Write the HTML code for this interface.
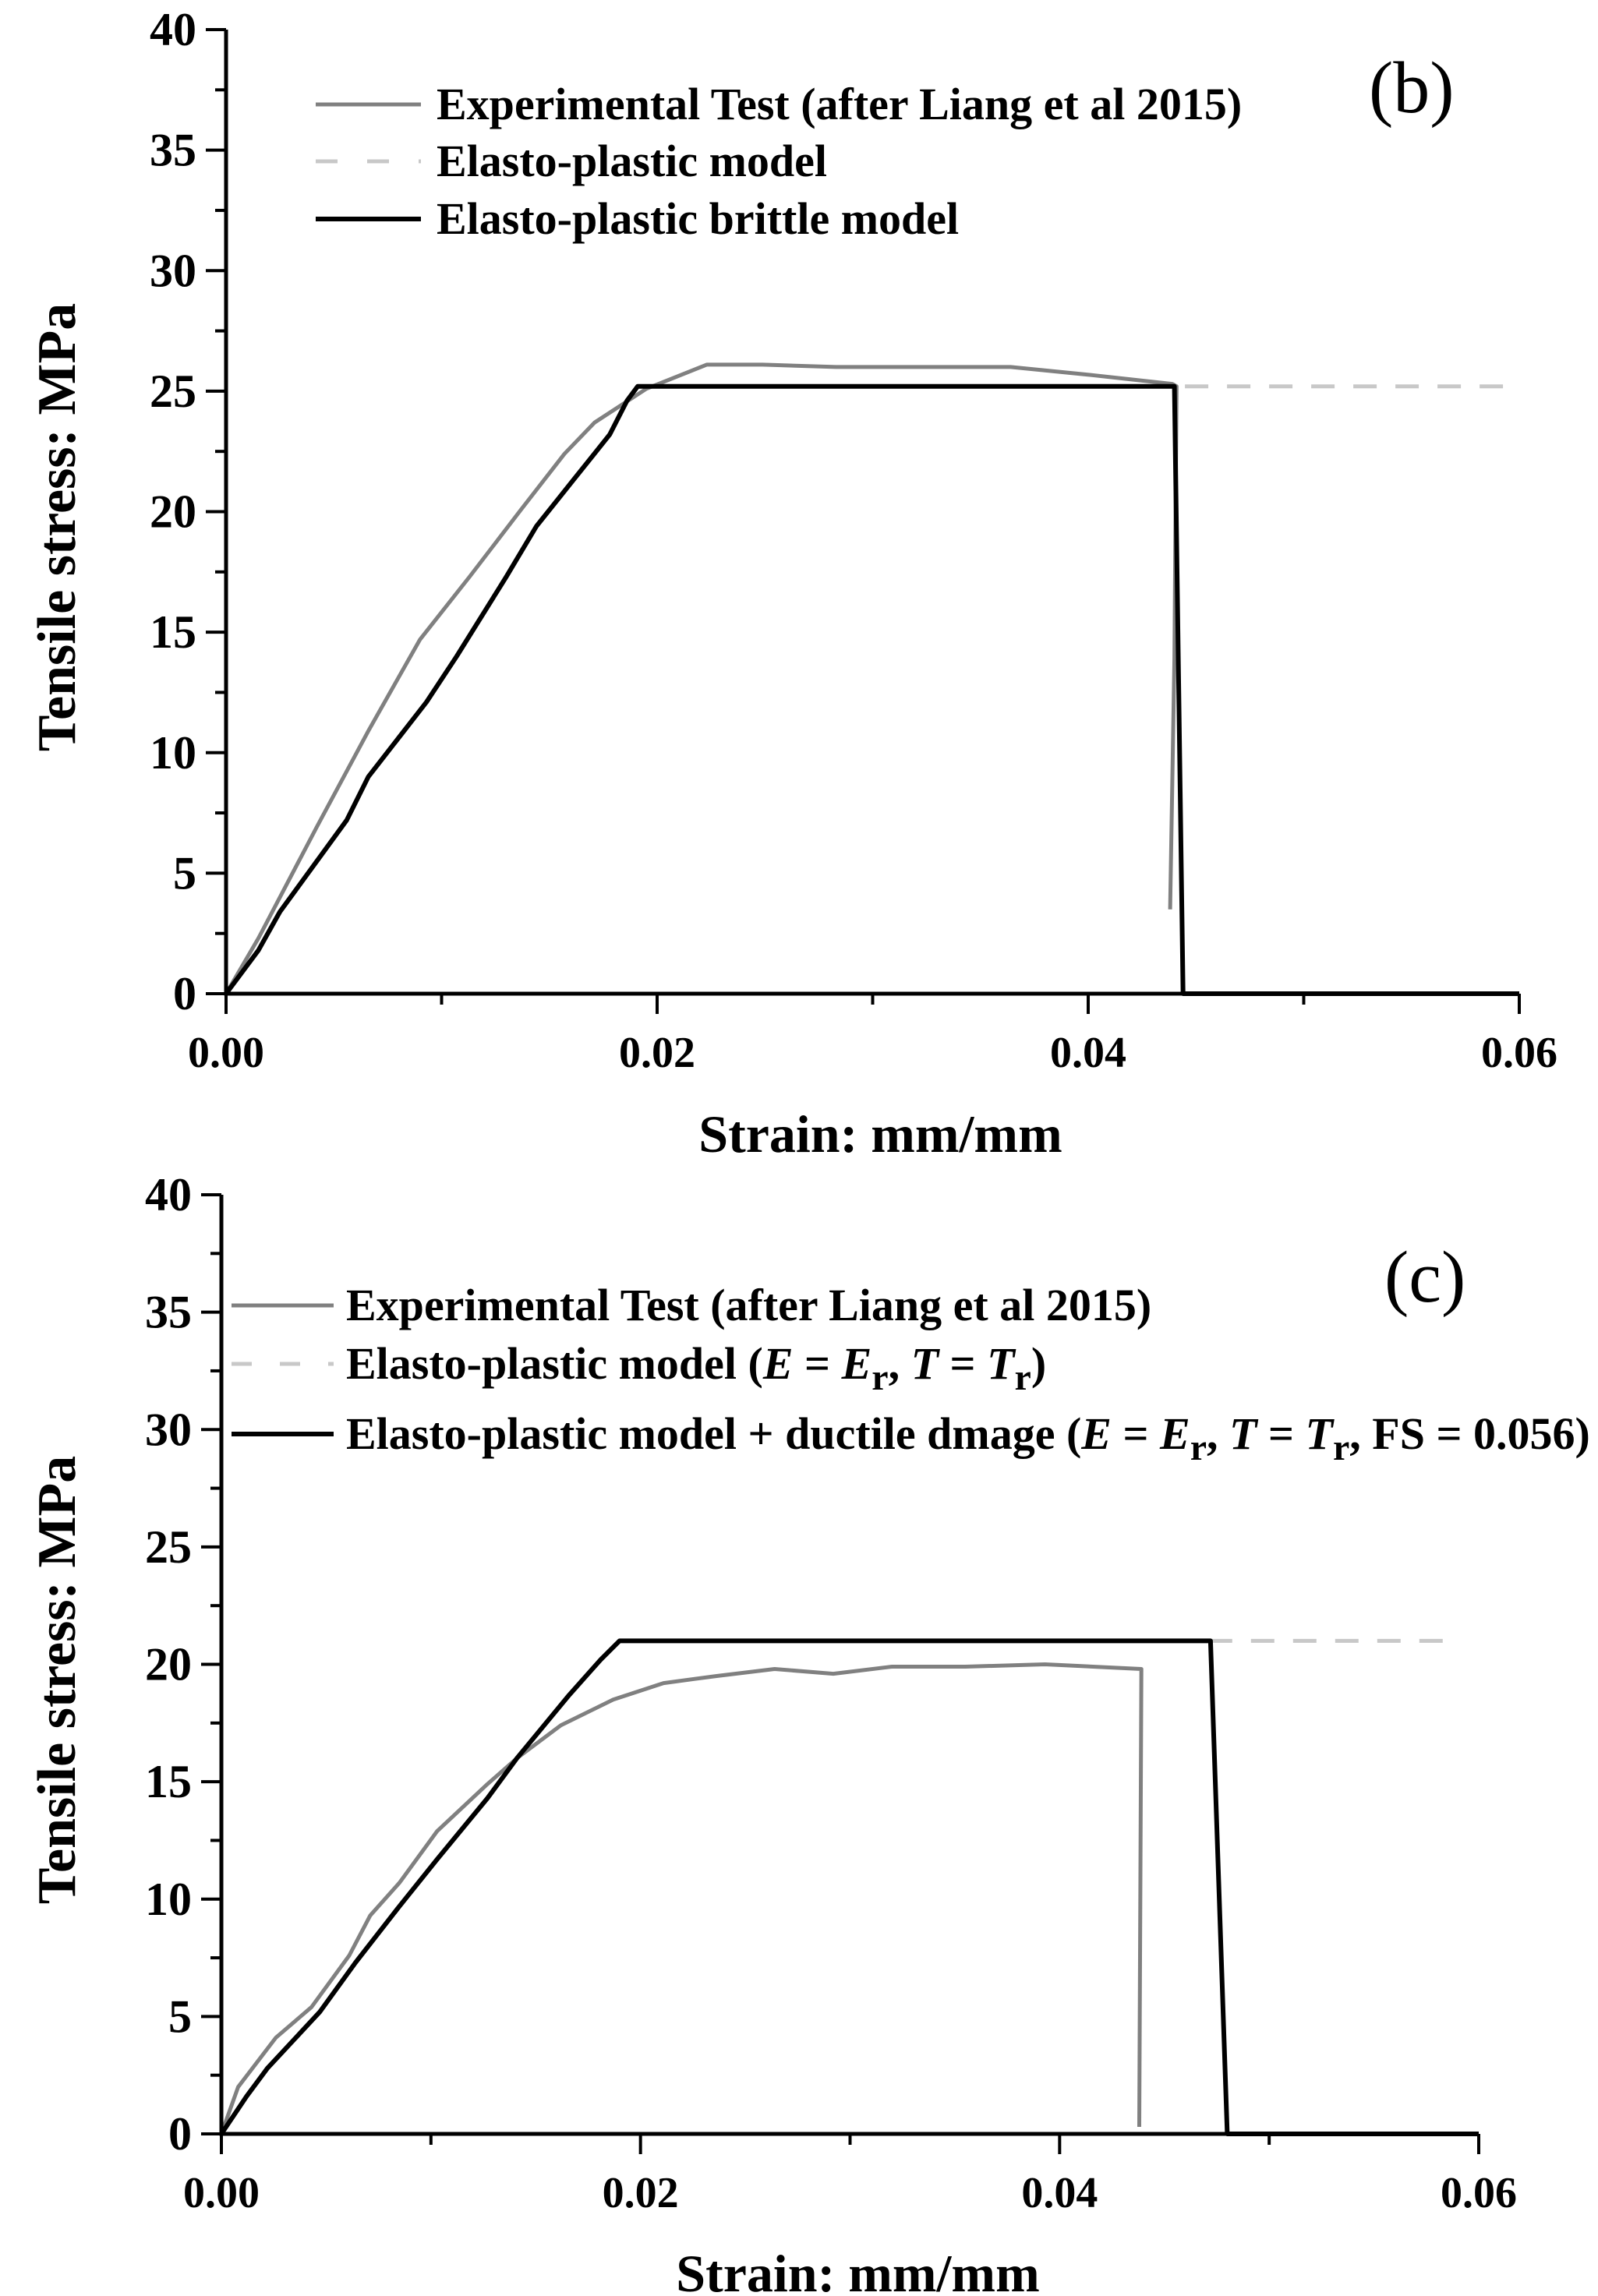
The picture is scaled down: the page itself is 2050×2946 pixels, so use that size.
<!DOCTYPE html>
<html><head><meta charset="utf-8"><style>
html,body{margin:0;padding:0;background:#fff}
svg{display:block}
text{font-family:"Liberation Serif",serif;fill:#000}
</style></head><body>
<svg id="fig" width="2050" height="2946" viewBox="0 0 2050 2946" xmlns="http://www.w3.org/2000/svg"></svg>
<script>
// ---- chart (b) data ----
const xTicks = [0, 0.02, 0.04, 0.06];
const xTickLabels = ["0.00", "0.02", "0.04", "0.06"];
const yTicks = [0, 5, 10, 15, 20, 25, 30, 35, 40];
const yTickLabels = ["0", "5", "10", "15", "20", "25", "30", "35", "40"];
const bExpX = [0, 0.0015, 0.0042, 0.0066, 0.009, 0.0113, 0.0137, 0.0157, 0.0171, 0.0195, 0.0223, 0.0249, 0.0283, 0.0317, 0.0364, 0.0398, 0.0439, 0.0441, 0.044, 0.0438];
const bExpY = [0, 2.3, 6.9, 10.9, 14.7, 17.3, 20.1, 22.4, 23.7, 25.1, 26.1, 26.1, 26.0, 26.0, 26.0, 25.7, 25.3, 25.2, 13.9, 3.5];
const bEpX = [0.0191, 0.06];
const bEpY = [25.2, 25.2];
const bBrX = [0, 0.0015, 0.0025, 0.0056, 0.0066, 0.0093, 0.0107, 0.013, 0.0144, 0.0161, 0.0178, 0.0186, 0.0191, 0.044, 0.0444, 0.06];
const bBrY = [0, 1.8, 3.4, 7.2, 9.0, 12.1, 14.0, 17.3, 19.4, 21.3, 23.2, 24.6, 25.2, 25.2, 0, 0];
// ---- chart (c) data ----
const cExpX = [0, 0.0008, 0.0026, 0.0043, 0.0061, 0.0071, 0.0085, 0.0103, 0.0127, 0.0141, 0.0162, 0.0187, 0.0211, 0.0236, 0.0264, 0.0292, 0.032, 0.0355, 0.0393, 0.0439, 0.0438];
const cExpY = [0, 2.0, 4.1, 5.4, 7.6, 9.3, 10.7, 12.9, 14.9, 16.0, 17.4, 18.5, 19.2, 19.5, 19.8, 19.6, 19.9, 19.9, 20.0, 19.8, 0.3];
const cEpX = [0.019, 0.0583];
const cEpY = [21.0, 21.0];
const cDmX = [0, 0.0012, 0.0022, 0.0047, 0.0064, 0.0085, 0.0103, 0.0127, 0.0141, 0.0166, 0.0181, 0.019, 0.0472, 0.048, 0.06];
const cDmY = [0, 1.6, 2.8, 5.2, 7.3, 9.7, 11.7, 14.3, 16.0, 18.7, 20.2, 21.0, 21.0, 0, 0];

const NS = "http://www.w3.org/2000/svg";
const svg = document.getElementById("fig");
function mk(tag, attrs, parent) {
  const e = document.createElementNS(NS, tag);
  for (const k in attrs) e.setAttribute(k, attrs[k]);
  (parent || svg).appendChild(e);
  return e;
}
function drawChart(id, x0px, x1px, y0px, y1px, series, legend, panelLabel, titleY) {
  const g = mk("g", {});
  
  
  const X = v => x0px + (v / 0.06) * (x1px - x0px);
  const Y = v => y0px - (v / 40) * (y0px - y1px);
  series.forEach(s => {
    const d = s.xs.map((x, i) => (i ? "L" : "M") + X(x).toFixed(1) + " " + Y(s.ys[i]).toFixed(1)).join(" ");
    const p = mk("path", {d: d, fill: "none", stroke: s.color, "stroke-width": s.w, "stroke-linejoin": "round", "stroke-dasharray": s.dash || "none"}, g);
    
    
  });
  const ax = mk("path", {d: `M${x0px} ${y1px} V${y0px} H${x1px}`, fill: "none", stroke: "#000", "stroke-width": 5}, g);
  
  
  for (let v = 0; v <= 40.01; v += 2.5) {
    const major = Math.abs(v % 5) < 0.01;
    mk("line", {x1: x0px - (major ? 26 : 14), x2: x0px, y1: Y(v), y2: Y(v), stroke: "#000", "stroke-width": 4}, g);
  }
  for (let v = 0; v <= 0.0601; v += 0.01) {
    const major = Math.round(v * 100) % 2 === 0;
    mk("line", {x1: X(v), x2: X(v), y1: y0px, y2: y0px + (major ? 26 : 14), stroke: "#000", "stroke-width": 4}, g);
  }
  yTicks.forEach((v, i) => {
    const t = mk("text", {x: x0px - 38, y: Y(v) + 20, "text-anchor": "end", "font-size": 60, "font-weight": "bold"}, g);
    t.textContent = yTickLabels[i];
    
    
  });
  xTicks.forEach((v, i) => {
    const t = mk("text", {x: X(v), y: y0px + 94, "text-anchor": "middle", "font-size": 56, "font-weight": "bold"}, g);
    t.textContent = xTickLabels[i];
    
    
  });
  const xt = mk("text", {x: (x0px + x1px) / 2 + 10, y: titleY, "text-anchor": "middle", "font-size": 68, "font-weight": "bold"}, g);
  xt.textContent = "Strain: mm/mm";
  
  
  const cy = (y0px + y1px) / 2 + 20;
  const yt = mk("text", {x: 96, y: cy, "text-anchor": "middle", "font-size": 70, "font-weight": "bold", transform: `rotate(-90 96 ${cy})`}, g);
  yt.textContent = "Tensile stress: MPa";
  
  
  const pl = mk("text", {x: panelLabel.x, y: panelLabel.y, "font-size": 94}, g);
  pl.textContent = panelLabel.text;
  
  
  legend.forEach(l => {
    const lg = mk("g", {}, g);
    
    
    mk("line", {x1: l.lx1, x2: l.lx2, y1: l.y, y2: l.y, stroke: l.color, "stroke-width": l.w, "stroke-dasharray": l.dash || "none"}, lg);
    const t = mk("text", {x: l.tx, y: l.y + 19, "font-size": 58, "font-weight": "bold"}, lg);
    t.innerHTML = l.html;
  });
}
const G = "#808080", LG = "#c8c8c8";
drawChart("b", 290, 1949, 1275, 38, [
  {name: "elasto-plastic-line", xs: bEpX, ys: bEpY, color: LG, w: 5, dash: "30 24"},
  {name: "experimental-line", xs: bExpX, ys: bExpY, color: G, w: 5},
  {name: "brittle-model-line", xs: bBrX, ys: bBrY, color: "#000", w: 6}
], [
  {lx1: 405, lx2: 540, y: 134, tx: 560, color: G, w: 5, html: "Experimental Test (after Liang et al 2015)"},
  {lx1: 405, lx2: 540, y: 207, tx: 560, color: LG, w: 5, dash: "28 38", html: "Elasto-plastic model"},
  {lx1: 405, lx2: 540, y: 281, tx: 560, color: "#000", w: 6, html: "Elasto-plastic brittle model"}
], {x: 1756, y: 144, text: "(b)"}, 1478);
const sub = s => `<tspan baseline-shift="-14" font-size="48">${s}</tspan>`;
drawChart("c", 284, 1897, 2738, 1533, [
  {name: "elasto-plastic-line", xs: cEpX, ys: cEpY, color: LG, w: 5, dash: "30 24"},
  {name: "experimental-line", xs: cExpX, ys: cExpY, color: G, w: 5},
  {name: "ductile-damage-line", xs: cDmX, ys: cDmY, color: "#000", w: 6}
], [
  {lx1: 297, lx2: 428, y: 1675, tx: 444, color: G, w: 5, html: "Experimental Test (after Liang et al 2015)"},
  {lx1: 297, lx2: 428, y: 1750, tx: 444, color: LG, w: 5, dash: "26 36", html: `Elasto-plastic model (<tspan font-style="italic">E</tspan> = <tspan font-style="italic">E</tspan>${sub("r")}<tspan>, </tspan><tspan font-style="italic">T</tspan> = <tspan font-style="italic">T</tspan>${sub("r")}<tspan>)</tspan>`},
  {lx1: 297, lx2: 428, y: 1840, tx: 444, color: "#000", w: 6, html: `Elasto-plastic model + ductile dmage (<tspan font-style="italic">E</tspan> = <tspan font-style="italic">E</tspan>${sub("r")}<tspan>, </tspan><tspan font-style="italic">T</tspan> = <tspan font-style="italic">T</tspan>${sub("r")}<tspan>, FS = 0.056)</tspan>`}
], {x: 1776, y: 1670, text: "(c)"}, 2940);
</script>
</body></html>
